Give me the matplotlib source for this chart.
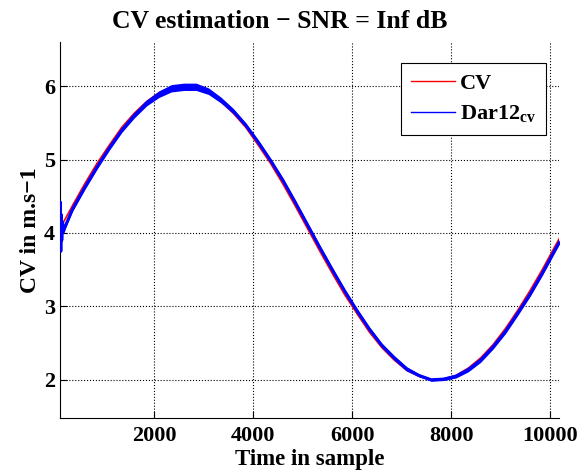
import numpy as np
import matplotlib
matplotlib.use('Agg')
import matplotlib.pyplot as plt

# sample index (x axis)
samples = [100, 350, 600, 850, 1100, 1350, 1600, 1850, 2100, 2350, 2600, 2850,
           3100, 3350, 3600, 3850, 4100, 4350, 4600, 4850, 5100, 5350, 5600,
           5850, 6100, 6350, 6600, 6850, 7100, 7350, 7600, 7850, 8100, 8350,
           8600, 8850, 9100, 9350, 9600, 9850, 10100, 10200]
cv_true = [4.06, 4.37, 4.67, 4.95, 5.20, 5.44, 5.63, 5.79, 5.91, 5.98, 6.00, 5.98,
           5.91, 5.79, 5.63, 5.44, 5.20, 4.95, 4.67, 4.37, 4.06, 3.75, 3.45,
           3.16, 2.90, 2.65, 2.44, 2.27, 2.13, 2.05, 2.00, 2.01, 2.06, 2.16,
           2.30, 2.48, 2.70, 2.95, 3.22, 3.51, 3.82, 3.94]

# estimate (Dar12), with the start-up transient
est_samples = [100, 108, 116, 124, 135, 150, 170, 200, 350, 600, 850, 1100, 1350,
               1600, 1850, 2100, 2350, 2600, 2850, 3100, 3350, 3600, 3850, 4100,
               4350, 4600, 4850, 5100, 5350, 5600, 5850, 6100, 6350, 6600, 6850,
               7100, 7350, 7600, 7850, 8100, 8350, 8600, 8850, 9100, 9350, 9600,
               9850, 10100, 10200]
est_cv = [4.00, 4.42, 3.75, 4.25, 3.90, 4.15, 4.02, 4.08, 4.32, 4.62, 4.90, 5.16,
          5.40, 5.60, 5.77, 5.89, 5.97, 5.99, 5.99, 5.93, 5.81, 5.66, 5.47, 5.24,
          4.99, 4.72, 4.42, 4.11, 3.80, 3.50, 3.21, 2.94, 2.69, 2.47, 2.30, 2.15,
          2.06, 2.00, 2.01, 2.05, 2.14, 2.27, 2.45, 2.66, 2.91, 3.17, 3.46, 3.77,
          3.89]
# half width of the noisy band of the estimate
est_spread = [0.03, 0.03, 0.03, 0.03, 0.03, 0.03, 0.03, 0.03, 0.03, 0.03, 0.03, 0.03,
              0.03, 0.035, 0.04, 0.045, 0.05, 0.05, 0.05, 0.045, 0.04, 0.035, 0.03, 0.03,
              0.03, 0.03, 0.03, 0.03, 0.03, 0.03, 0.03, 0.03, 0.03, 0.03, 0.03, 0.03,
              0.02, 0.02, 0.02, 0.025, 0.03, 0.03, 0.03, 0.03, 0.03, 0.03, 0.03, 0.03,
              0.03]

xticks = [2000, 4000, 6000, 8000, 10000]
yticks = [2, 3, 4, 5, 6]

plt.rcParams['font.family'] = ['Liberation Serif', 'DejaVu Serif']
plt.rcParams['font.weight'] = 'bold'
plt.rcParams['mathtext.fontset'] = 'custom'
plt.rcParams['mathtext.rm'] = 'Liberation Serif:bold'
plt.rcParams['mathtext.bf'] = 'Liberation Serif:bold'

fig = plt.figure(figsize=(5.86, 4.72), dpi=100)
ax = fig.add_axes([0.1024, 0.1144, 0.8515, 0.7966])

ax.plot(samples, cv_true, color='red', lw=1.2, label='CV', zorder=3)
est_x = np.array(est_samples)
est_y = np.array(est_cv)
sp = np.array(est_spread)
ax.fill_between(est_x, est_y - sp, est_y + sp, color='blue', lw=0, zorder=4)
ax.plot(est_x, est_y, color='blue', lw=2.2, label=r'Dar12$_{\mathrm{cv}}$', zorder=4)

ax.set_xlim(100, 10180)
ax.set_ylim(1.48, 6.6)
ax.set_xticks(xticks)
ax.set_yticks(yticks)
ax.spines['top'].set_visible(False)
ax.spines['right'].set_visible(False)
ax.tick_params(direction='in', labelsize=16, length=5)
ax.tick_params(axis='x', pad=6)
for lab in ax.get_xticklabels() + ax.get_yticklabels():
    lab.set_fontweight('bold')
ax.grid(True, color='black', linestyle=':', lw=0.8)

fig.text(280 / 586, 1 - 28 / 472, 'CV estimation \u2212 SNR = Inf dB', fontsize=18.5,
         fontweight='bold', ha='center', va='baseline')
# x label placed by hand, just under the tick labels
fig.text(310 / 586, 1 - 465 / 472, 'Time in sample', fontsize=16.5,
         fontweight='bold', ha='center', va='baseline')
ax.set_ylabel('CV in m.s\u22121', fontsize=17, fontweight='bold', labelpad=2)

leg = ax.legend(loc='upper right', bbox_to_anchor=(0.974, 0.944), borderaxespad=0,
                fancybox=False, framealpha=1, edgecolor='black', handlelength=2.0,
                handletextpad=0.2, borderpad=0.45, labelspacing=0.45,
                prop={'weight': 'bold', 'size': 16})
for h in leg.get_lines():
    h.set_linewidth(1.0)
leg.get_frame().set_linewidth(0.8)

fig.savefig('out.png', dpi=100)
